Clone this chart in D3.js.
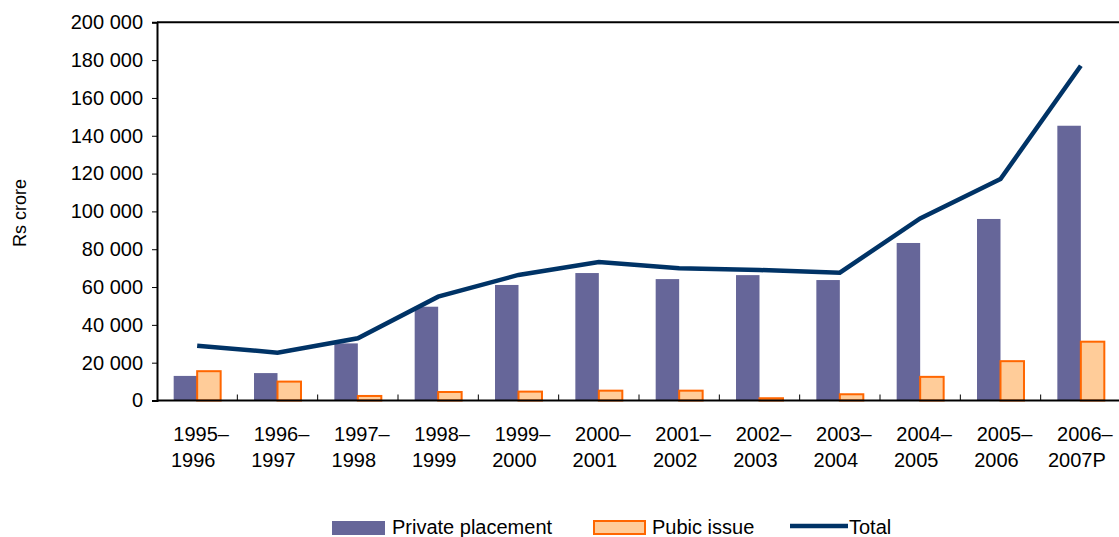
<!DOCTYPE html>
<html>
<head>
<meta charset="utf-8">
<script src="https://cdn.jsdelivr.net/npm/d3@7"></script>
<style>
  body { margin: 0; background: #fff; }
  svg { display: block; font-family: "Liberation Sans", Arial, sans-serif; }
</style>
</head>
<body>
<svg width="1119" height="537"></svg>
<script>
// data (Rs crore)
var years = ["1995–1996", "1996–1997", "1997–1998", "1998–1999", "1999–2000", "2000–2001",
             "2001–2002", "2002–2003", "2003–2004", "2004–2005", "2005–2006", "2006–2007P"];
var privatePlacement = [13000, 14500, 30200, 49600, 61100, 67400, 64200, 66300, 63700, 83300, 96000, 145300];
var publicIssue = [15500, 10000, 2400, 4500, 4700, 5200, 5200, 1200, 3300, 12500, 20800, 31100];
var total = [29000, 25300, 32900, 54900, 66400, 73200, 70000, 69000, 67600, 96300, 117100, 177000];
var yTicks = [0, 20000, 40000, 60000, 80000, 100000, 120000, 140000, 160000, 180000, 200000];

var svg = d3.select("svg"),
    plotLeft = 157, plotRight = 1121, plotTop = 22.3, plotBottom = 400.5;

var x = d3.scaleBand().domain(years).range([plotLeft, plotRight]).padding(0);
var xs = d3.scaleBand().domain(["private", "public"]).range([0, x.bandwidth()])
    .paddingInner(0).paddingOuter(0.71);
var y = d3.scaleLinear().domain([0, 200000]).range([plotBottom, plotTop]);

var fmt = d3.formatLocale({decimal: ".", thousands: " ", grouping: [3], currency: ["", ""]}).format(",");

// plot frame (top border)
svg.append("line")
    .attr("x1", plotLeft).attr("x2", plotRight)
    .attr("y1", plotTop).attr("y2", plotTop)
    .attr("stroke", "#000").attr("stroke-width", 2);

// y axis
var yAxis = svg.append("g")
    .attr("transform", "translate(" + plotLeft + ",0)")
    .call(d3.axisLeft(y).tickValues(yTicks).tickFormat(fmt).tickSize(5).tickPadding(9));
yAxis.select(".domain").attr("stroke-width", 2);
yAxis.selectAll("text").style("font-size", "20px").style("font-family", "Liberation Sans, Arial, sans-serif").attr("fill", "#000");

// bars
var groups = svg.selectAll(".yr")
    .data(years)
    .enter().append("g")
    .attr("transform", function(d) { return "translate(" + x(d) + ",0)"; });

groups.append("rect")
    .attr("x", xs("private"))
    .attr("width", xs.bandwidth())
    .attr("y", function(d, i) { return y(privatePlacement[i]); })
    .attr("height", function(d, i) { return y(0) - y(privatePlacement[i]); })
    .attr("fill", "#666699");

groups.append("rect")
    .attr("x", xs("public"))
    .attr("width", xs.bandwidth())
    .attr("y", function(d, i) { return y(publicIssue[i]); })
    .attr("height", function(d, i) { return y(0) - y(publicIssue[i]); })
    .attr("fill", "#FFCC99")
    .attr("stroke", "#FF6600")
    .attr("stroke-width", 2);

// x axis
svg.append("line")
    .attr("x1", plotLeft).attr("x2", plotRight)
    .attr("y1", plotBottom).attr("y2", plotBottom)
    .attr("stroke", "#000").attr("stroke-width", 2);

svg.selectAll(".xtick")
    .data(years.slice(1))
    .enter().append("line")
    .attr("x1", function(d) { return x(d); })
    .attr("x2", function(d) { return x(d); })
    .attr("y1", plotBottom).attr("y2", plotBottom - 6)
    .attr("stroke", "#000").attr("stroke-width", 1);

var labels = svg.selectAll(".xlab")
    .data(years)
    .enter().append("text")
    .attr("text-anchor", "middle")
    .style("font-size", "20px");
labels.append("tspan")
    .attr("x", function(d) { return x(d) + x.bandwidth() / 2 + 4; })
    .attr("y", 441)
    .text(function(d) { return d.split("–")[0] + "–"; });
labels.append("tspan")
    .attr("x", function(d) { return x(d) + x.bandwidth() / 2 - 4; })
    .attr("y", 467)
    .text(function(d) { return d.split("–")[1]; });

// total line
var line = d3.line()
    .x(function(d, i) { return x(years[i]) + x.bandwidth() / 2; })
    .y(function(d) { return y(d); });

svg.append("path")
    .datum(total)
    .attr("d", line)
    .attr("fill", "none")
    .attr("stroke", "#003366")
    .attr("stroke-width", 4.5);

// y axis title
svg.append("text")
    .attr("transform", "translate(26,213) rotate(-90)")
    .attr("text-anchor", "middle")
    .style("font-size", "18px")
    .text("Rs crore");

// legend
var lg = svg.append("g").style("font-size", "20px");
lg.append("rect").attr("x", 332).attr("y", 521).attr("width", 53).attr("height", 14).attr("fill", "#666699");
lg.append("text").attr("x", 392).attr("y", 534).text("Private placement");
lg.append("rect").attr("x", 594).attr("y", 521).attr("width", 51).attr("height", 13)
    .attr("fill", "#FFCC99").attr("stroke", "#FF6600").attr("stroke-width", 2);
lg.append("text").attr("x", 652).attr("y", 534).text("Pubic issue");
lg.append("line").attr("x1", 790).attr("x2", 848).attr("y1", 526).attr("y2", 526)
    .attr("stroke", "#003366").attr("stroke-width", 4.5);
lg.append("text").attr("x", 849).attr("y", 534).text("Total");
</script>
</body>
</html>
